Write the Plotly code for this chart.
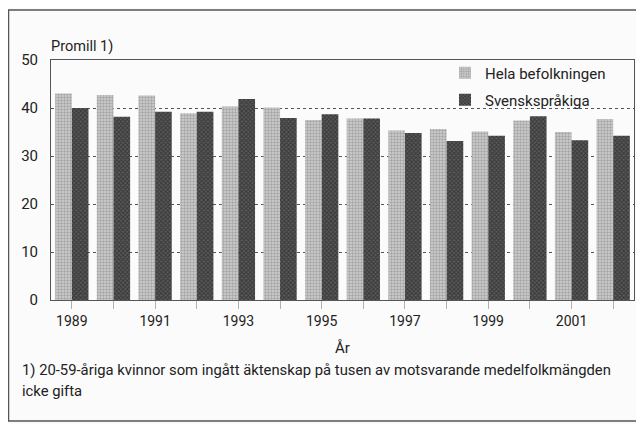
import plotly.graph_objects as go

years = list(range(1989, 2003))
hela = [43.0, 42.7, 42.6, 38.9, 40.3, 40.1, 37.5, 37.8, 35.3, 35.6, 35.1, 37.4, 35.0, 37.7]
svensk = [40.0, 38.2, 39.2, 39.2, 41.9, 37.9, 38.7, 37.8, 34.8, 33.1, 34.2, 38.3, 33.3, 34.2]
tick_text = [str(y) if y % 2 == 1 else "" for y in years]
series_names = ["Hela befolkningen", "Svenskspråkiga"]
y_ticks = [0, 10, 20, 30, 40, 50]

FONT = "Roboto, Liberation Sans, sans-serif"
OFF = 8  # page body margin
W, H = 644 - OFF, 424 - OFF
# plot area in page coordinates
PL, PR, PT, PB = 51, 634, 60, 300
L, R, T, B = PL - OFF, 644 - PR, PT - OFF, 424 - PB
pw = PR - PL
ph = PB - PT

def px(x):
    return (x - PL) / pw

def py(y):
    return (PB - y) / ph

fig = go.Figure()
fig.add_trace(go.Bar(
    x=years, y=hela, name=series_names[0], legend="legend",
    marker=dict(color="#c4c4c4", line=dict(width=0),
                pattern=dict(shape=".", fgcolor="#7a7a7a", bgcolor="#d0d0d0", size=3, solidity=0.5)),
))
fig.add_trace(go.Bar(
    x=years, y=svensk, name=series_names[1], legend="legend2",
    marker=dict(color="#383838", line=dict(width=0),
                pattern=dict(shape="x", fgcolor="#151515", bgcolor="#5a5a5a", size=3, solidity=0.55)),
))

fig.update_layout(
    width=W, height=H,
    margin=dict(l=L, r=R, t=T, b=B),
    paper_bgcolor="#fbfbfb", plot_bgcolor="#fbfbfb",
    barmode="group", bargap=0.2, bargroupgap=0,
    font=dict(family=FONT, size=14, color="#222"),
    legend=dict(x=px(445), y=py(73), xanchor="left", yanchor="middle",
                bgcolor="rgba(0,0,0,0)", font=dict(size=15, family=FONT, color="#222"),
                itemwidth=30),
    legend2=dict(x=px(445), y=py(100), xanchor="left", yanchor="middle",
                 bgcolor="rgba(0,0,0,0)", font=dict(size=15, family=FONT, color="#222"),
                 itemwidth=30),
    showlegend=True,
)
fig.update_xaxes(
    range=[1988.5, 2002.5], tickmode="array", tickvals=years, ticktext=tick_text,
    ticks="outside", ticklen=8, tickcolor="#b0b0b0", tickwidth=1,
    showline=True, linecolor="#555", linewidth=1, mirror=True,
    showgrid=False, tickfont=dict(size=14, family=FONT, color="#222"),
)
fig.update_yaxes(
    range=[0, 50], tickmode="array", tickvals=y_ticks,
    showline=True, linecolor="#555", linewidth=1, mirror=True,
    showgrid=True, gridcolor="#555", griddash="dot", gridwidth=1,
    zeroline=False, ticks="", ticklabelstandoff=9,
    tickfont=dict(size=15, family=FONT, color="#222"),
)

fig.add_annotation(text="Promill 1)", xref="paper", yref="paper", x=px(49), y=py(47),
                   xanchor="left", yanchor="middle", showarrow=False,
                   font=dict(size=14.5, family=FONT, color="#222"))
fig.add_annotation(text="År", xref="paper", yref="paper", x=px(342), y=py(348),
                   xanchor="center", yanchor="middle", showarrow=False,
                   font=dict(size=15, family=FONT, color="#222"))
fig.add_annotation(text="1) 20-59-åriga kvinnor som ingått äktenskap på tusen av motsvarande medelfolkmängden",
                   xref="paper", yref="paper", x=px(20), y=py(370),
                   xanchor="left", yanchor="middle", showarrow=False,
                   font=dict(size=14.8, family=FONT, color="#222"))
fig.add_annotation(text="icke gifta", xref="paper", yref="paper", x=px(20), y=py(391),
                   xanchor="left", yanchor="middle", showarrow=False,
                   font=dict(size=14.8, family=FONT, color="#222"))

fig.add_shape(type="rect", xref="paper", yref="paper",
              x0=px(8.5), x1=px(652), y0=py(421), y1=py(10),
              line=dict(color="#555", width=1.5), fillcolor="rgba(0,0,0,0)", layer="below")

fig.write_html("out.html")
